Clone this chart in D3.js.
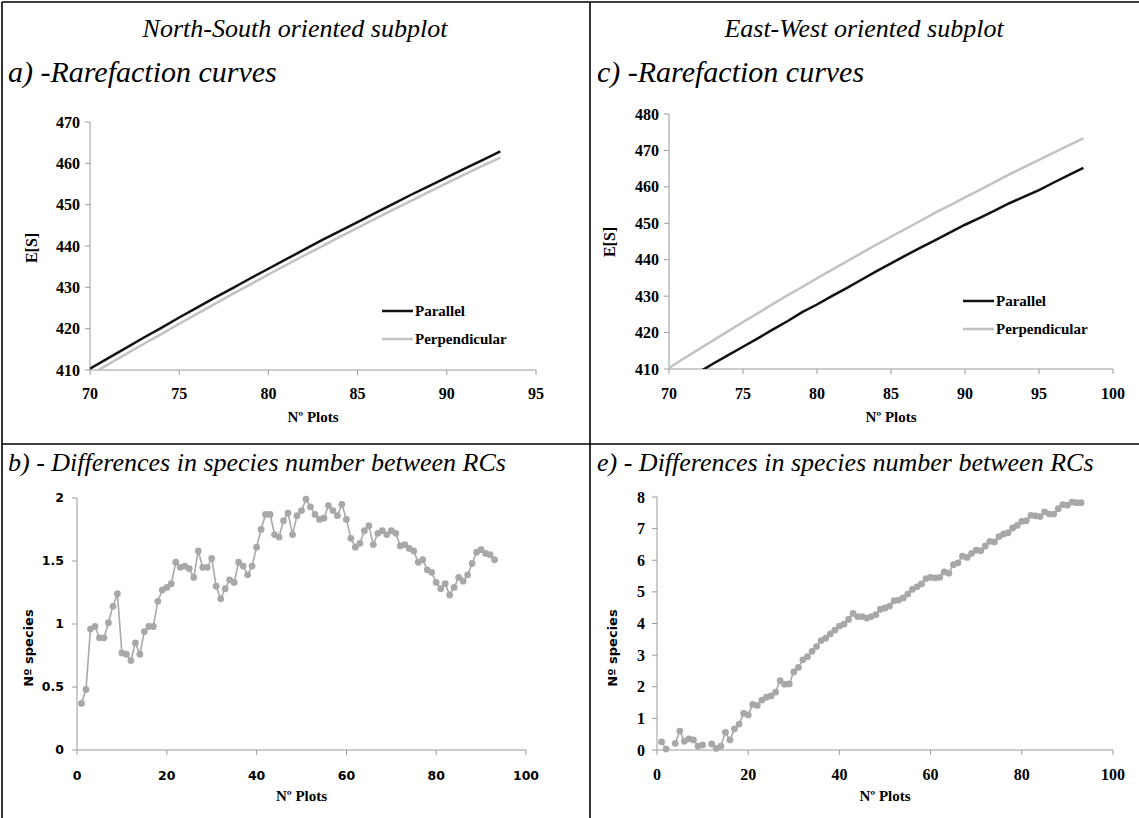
<!DOCTYPE html>
<html><head><meta charset="utf-8">
<script src="https://cdn.jsdelivr.net/npm/d3@7"></script>
<style>
body{margin:0;background:#fff;}
svg{display:block;}
</style></head>
<body>
<svg id="chart" width="1139" height="818"></svg>
<script>
// ---------- DATA ----------
// Panel a (North-South) rarefaction curves
const nsPlots = [70,71,72,73,74,75,76,77,78,79,80,81,82,83,84,85,86,87,88,89,90,91,92,93];
const nsParallel = [410.3,412.8,415.3,417.8,420.2,422.7,425.1,427.5,429.8,432.2,434.5,436.8,439.1,441.4,443.6,445.8,448.0,450.2,452.4,454.5,456.6,458.7,460.8,462.9];
const nsPerpendicular = [408.8,411.3,413.8,416.3,418.7,421.2,423.6,426.0,428.4,430.7,433.1,435.4,437.7,439.9,442.2,444.4,446.6,448.8,450.9,453.1,455.2,457.3,459.4,461.4];
// Panel c (East-West) rarefaction curves
const ewPlots = [70,71,72,73,74,75,76,77,78,79,80,81,82,83,84,85,86,87,88,89,90,91,92,93,94,95,96,97,98];
const ewParallel = [404.4,406.8,409.1,411.5,413.8,416.1,418.4,420.8,423.1,425.6,427.7,430.0,432.2,434.5,436.8,439.0,441.2,443.3,445.4,447.5,449.6,451.5,453.5,455.5,457.3,459.1,461.2,463.2,465.2];
const ewPerpendicular = [410.3,412.9,415.4,417.9,420.4,422.9,425.3,427.8,430.2,432.5,434.9,437.2,439.5,441.8,444.1,446.3,448.5,450.7,452.9,455.0,457.1,459.2,461.3,463.4,465.4,467.4,469.4,471.4,473.3];
// Panel b (North-South) differences, plots 1..93
const nsDiff = [0.37,0.48,0.96,0.98,0.89,0.89,1.01,1.14,1.24,0.77,0.76,0.71,0.85,0.76,0.94,0.98,0.98,1.18,1.27,1.29,1.32,1.49,1.45,1.46,1.44,1.37,1.58,1.45,1.45,1.52,
  1.30,1.20,1.28,1.35,1.33,1.49,1.46,1.39,1.46,1.61,1.75,1.87,1.87,1.71,1.69,1.82,1.88,1.71,1.86,1.90,1.99,1.93,1.87,1.83,1.84,1.94,1.90,1.86,1.95,1.83,
  1.68,1.61,1.64,1.74,1.78,1.63,1.72,1.74,1.71,1.74,1.72,1.62,1.63,1.60,1.58,1.49,1.51,1.43,1.41,1.33,1.28,1.32,1.23,1.29,1.37,1.34,1.39,1.48,1.57,1.59,
  1.56,1.55,1.51];
// Panel e (East-West) differences, plots 1..93 (null = not plotted)
const ewDiff = [0.26,0.03,null,0.21,0.60,0.28,0.35,0.32,0.12,0.16,null,0.19,0.05,0.12,0.56,0.32,0.67,0.82,1.16,1.11,1.44,1.41,1.58,1.67,1.71,1.83,2.19,2.08,2.09,2.47,
  2.61,2.85,2.95,3.12,3.27,3.46,3.54,3.67,3.79,3.92,3.98,4.13,4.32,4.22,4.22,4.17,4.22,4.28,4.45,4.49,4.55,4.72,4.74,4.81,4.93,5.08,5.16,5.25,5.42,5.46,
  5.44,5.46,5.63,5.59,5.86,5.92,6.13,6.09,6.22,6.32,6.30,6.45,6.60,6.58,6.75,6.83,6.87,7.02,7.10,7.23,7.25,7.42,7.40,7.38,7.53,7.46,7.46,7.63,7.76,7.74,
  7.84,7.82,7.82];

const rareYTicksA = [410,420,430,440,450,460,470];
const rareXTicksA = [70,75,80,85,90,95];
const rareYTicksC = [410,420,430,440,450,460,470,480];
const rareXTicksC = [70,75,80,85,90,95,100];
const diffYTicksB = [0,0.5,1,1.5,2];
const diffYTicksE = [0,1,2,3,4,5,6,7,8];
const diffXTicks = [0,20,40,60,80,100];

const seriesNames = ["Parallel","Perpendicular"];
const headers = ["North-South oriented subplot","East-West oriented subplot"];
const panelTitles = ["a) -Rarefaction curves","c) -Rarefaction curves","b) - Differences in species number between RCs","e) - Differences in species number between RCs"];

// ---------- DRAW ----------
const svg = d3.select("#chart");
const SERIF = "'Liberation Serif','Times New Roman',serif";
const SANS = "'DejaVu Sans',Verdana,sans-serif";
const AXIS = "#9a9a9a";
const PTS = "#a8a8a8";

// table grid
const grid = svg.append("g").attr("stroke","#000").attr("stroke-width",1.6);
grid.append("line").attr("x1",2).attr("x2",1139).attr("y1",2).attr("y2",2);
grid.append("line").attr("x1",2).attr("x2",1139).attr("y1",444).attr("y2",444);
grid.append("line").attr("x1",2).attr("x2",2).attr("y1",2).attr("y2",818);
grid.append("line").attr("x1",590).attr("x2",590).attr("y1",2).attr("y2",818);

// headers
const hdr = svg.append("g").attr("font-family",SERIF).attr("font-style","italic").attr("fill","#000");
hdr.append("text").attr("x",295).attr("y",37).attr("font-size",26).attr("text-anchor","middle").text(headers[0]);
hdr.append("text").attr("x",864).attr("y",37).attr("font-size",26).attr("text-anchor","middle").text(headers[1]);
hdr.append("text").attr("x",8).attr("y",82).attr("font-size",30).text(panelTitles[0]);
hdr.append("text").attr("x",597).attr("y",82).attr("font-size",30).text(panelTitles[1]);
hdr.append("text").attr("x",8).attr("y",471).attr("font-size",26).text(panelTitles[2]);
hdr.append("text").attr("x",597).attr("y",471).attr("font-size",26).text(panelTitles[3]);

function axes(g, x, y, xt, yt, o) {
  const [x0,x1] = x.range(), [y0,y1] = y.range();
  const ax = g.append("g");
  ax.append("line").attr("x1",x0).attr("x2",x1).attr("y1",y0).attr("y2",y0).attr("stroke",AXIS);
  ax.append("line").attr("x1",x0).attr("x2",x0).attr("y1",y0).attr("y2",y1).attr("stroke",AXIS);
  ax.selectAll(".xt").data(xt).join("line").attr("x1",d=>x(d)).attr("x2",d=>x(d)).attr("y1",y0).attr("y2",y0+5).attr("stroke",AXIS);
  ax.selectAll(".yt").data(yt).join("line").attr("x1",x0-5).attr("x2",x0).attr("y1",d=>y(d)).attr("y2",d=>y(d)).attr("stroke",AXIS);
  ax.selectAll(".xl").data(xt).join("text").attr("x",d=>x(d)).attr("y",y0+o.xlOff).attr("text-anchor","middle")
    .attr("font-family",o.tickFont).attr("font-weight","bold").attr("font-size",o.tickSize).text(d=>d);
  ax.selectAll(".yl").data(yt).join("text").attr("x",x0-o.ylOff).attr("y",d=>y(d)).attr("dy","0.35em").attr("text-anchor","end")
    .attr("font-family",o.tickFont).attr("font-weight","bold").attr("font-size",o.tickSize).text(d=>d);
  ax.append("text").attr("x",(x0+x1)/2).attr("y",y0+o.titleOff).attr("text-anchor","middle").attr("font-family",SERIF)
    .attr("font-weight","bold").attr("font-size",15).text("Nº Plots");
  ax.append("text").attr("transform",`translate(${o.ylx},${o.yly}) rotate(-90)`).attr("text-anchor","middle")
    .attr("font-family",o.ylFont).attr("font-weight","bold").attr("font-size",o.ylSize).text(o.ylabel);
}

let clipId = 0;
function rarePanel(xd, yd, xr, yr, xt, yt, plots, par, perp, o) {
  const x = d3.scaleLinear().domain(xd).range(xr);
  const y = d3.scaleLinear().domain(yd).range(yr);
  const g = svg.append("g");
  const id = "clip"+(clipId++);
  g.append("clipPath").attr("id",id).append("rect").attr("x",xr[0]).attr("y",yr[1]).attr("width",xr[1]-xr[0]).attr("height",yr[0]-yr[1]);
  axes(g,x,y,xt,yt,o);
  const line = d3.line().x((d,i)=>x(plots[i])).y(d=>y(d));
  const lg = g.append("g").attr("clip-path",`url(#${id})`);
  lg.append("path").attr("d",line(perp)).attr("fill","none").attr("stroke","#c2c2c2").attr("stroke-width",2.5);
  lg.append("path").attr("d",line(par)).attr("fill","none").attr("stroke","#111").attr("stroke-width",2.5);
  const leg = g.append("g").attr("font-family",SERIF).attr("font-weight","bold").attr("font-size",15);
  [["#111",seriesNames[0]],["#c2c2c2",seriesNames[1]]].forEach((s,i)=>{
    const ly = o.legY + i*28;
    leg.append("line").attr("x1",o.legX).attr("x2",o.legX+31).attr("y1",ly).attr("y2",ly).attr("stroke",s[0]).attr("stroke-width",2.5);
    leg.append("text").attr("x",o.legX+33).attr("y",ly).attr("dy","0.35em").text(s[1]);
  });
}

function diffPanel(yd, xr, yr, yt, vals, o) {
  const x = d3.scaleLinear().domain([0,100]).range(xr);
  const y = d3.scaleLinear().domain(yd).range(yr);
  const g = svg.append("g");
  axes(g,x,y,diffXTicks,yt,o);
  const data = vals.map((v,i)=>({p:i+1,v}));
  const line = d3.line().defined(d=>d.v!==null).x(d=>x(d.p)).y(d=>y(d.v));
  g.append("path").attr("d",line(data)).attr("fill","none").attr("stroke",PTS).attr("stroke-width",1.6);
  g.selectAll("circle").data(data.filter(d=>d.v!==null)).join("circle")
    .attr("cx",d=>x(d.p)).attr("cy",d=>y(d.v)).attr("r",3.4).attr("fill",PTS);
}

rarePanel([70,95],[410,470],[90,536],[370,122],rareXTicksA,rareYTicksA,nsPlots,nsParallel,nsPerpendicular,
  {tickFont:SERIF,tickSize:16,xlOff:29,ylOff:10,titleOff:52,ylx:37,yly:248,ylFont:SERIF,ylSize:16,ylabel:"E[S]",legX:382,legY:311});
rarePanel([70,100],[410,480],[669,1113],[369,114],rareXTicksC,rareYTicksC,ewPlots,ewParallel,ewPerpendicular,
  {tickFont:SERIF,tickSize:16,xlOff:30,ylOff:10,titleOff:53,ylx:615,yly:242,ylFont:SERIF,ylSize:16,ylabel:"E[S]",legX:963,legY:301});
diffPanel([0,2],[77,526],[750,498],diffYTicksB,nsDiff,
  {tickFont:SANS,tickSize:12.5,xlOff:30,ylOff:13,titleOff:51,ylx:33,yly:648,ylFont:SANS,ylSize:13,ylabel:"Nº species"});
diffPanel([0,8],[657,1113],[750,497],diffYTicksE,ewDiff,
  {tickFont:SERIF,tickSize:16,xlOff:30,ylOff:12,titleOff:51,ylx:617,yly:648,ylFont:SANS,ylSize:13,ylabel:"Nº species"});
</script>
</body></html>
